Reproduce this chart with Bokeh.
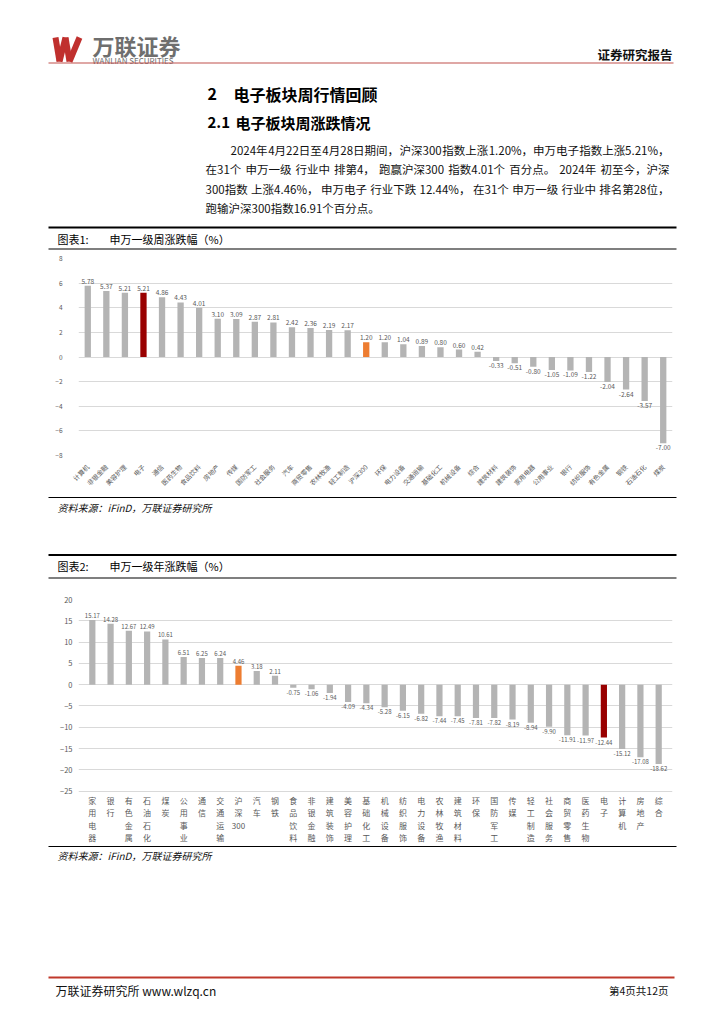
import math
from bokeh.plotting import figure
from bokeh.models import Range1d, FactorRange, FixedTicker, ColumnDataSource
from bokeh.layouts import column
from bokeh.core.properties import value
from bokeh.embed import file_html
from bokeh.resources import INLINE

FONT = "Noto Sans CJK SC"

# ---------------- data ----------------
week_categories = ["计算机", "非银金融", "美容护理", "电子", "通信", "医药生物", "食品饮料", "房地产",
                   "传媒", "国防军工", "社会服务", "汽车", "商贸零售", "农林牧渔", "轻工制造", "沪深300",
                   "环保", "电力设备", "交通运输", "基础化工", "机械设备", "综合", "建筑材料", "建筑装饰",
                   "家用电器", "公用事业", "银行", "纺织服饰", "有色金属", "钢铁", "石油石化", "煤炭"]
week_values = [5.78, 5.37, 5.21, 5.21, 4.86, 4.43, 4.01, 3.10,
               3.09, 2.87, 2.81, 2.42, 2.36, 2.19, 2.17, 1.20,
               1.20, 1.04, 0.89, 0.80, 0.60, 0.42, -0.33, -0.51,
               -0.80, -1.05, -1.09, -1.22, -2.04, -2.64, -3.57, -7.00]

year_categories = ["家用电器", "银行", "有色金属", "石油石化", "煤炭", "公用事业", "通信", "交通运输",
                   "沪深300", "汽车", "钢铁", "食品饮料", "非银金融", "建筑装饰", "美容护理", "基础化工",
                   "机械设备", "纺织服饰", "电力设备", "农林牧渔", "建筑材料", "环保", "国防军工", "传媒",
                   "轻工制造", "社会服务", "商贸零售", "医药生物", "电子", "计算机", "房地产", "综合"]
year_values = [15.17, 14.28, 12.67, 12.49, 10.61, 6.51, 6.25, 6.24,
               4.46, 3.18, 2.11, -0.75, -1.06, -1.94, -4.09, -4.34,
               -5.28, -6.15, -6.82, -7.44, -7.45, -7.81, -7.82, -8.19,
               -8.94, -9.90, -11.91, -11.97, -12.44, -15.12, -17.08, -18.62]

week_ticks = [-8, -6, -4, -2, 0, 2, 4, 6, 8]
year_ticks = [-25, -20, -15, -10, -5, 0, 5, 10, 15, 20]

highlight = "电子"
benchmark = "沪深300"

paragraph = [
    ["2024年", "4月22日至", "4月28日期间，", "沪深300", "指数上涨", "1.20%，", "申万电子", "指数上涨", "5.21%，"],
    ["在31个", "申万一级", "行业中", "排第4，", "跑赢沪深300", "指数4.01个", "百分点。", "2024年", "初至今，沪深"],
    ["300指数", "上涨4.46%，", "申万电子", "行业下跌", "12.44%，", "在31个", "申万一级", "行业中", "排名第28位，"],
    ["跑输沪深300指数16.91个百分点。"],
]

W = 724
BL, BR = 78, 52          # common left / right borders of every figure
GRAY_BAR = "#b4b4b4"
RED_BAR = "#990000"
ORANGE_BAR = "#ed7d31"
LABEL = "#595959"


def deco(top, bottom):
    p = figure(width=W, height=bottom - top, x_range=Range1d(BL, W - BR), y_range=Range1d(bottom, top),
               x_axis_type=None, y_axis_type=None, toolbar_location=None, output_backend="svg",
               min_border_left=BL, min_border_right=BR, min_border_top=0, min_border_bottom=0,
               outline_line_color=None)
    p.grid.visible = False
    return p


def txt(p, x, y, s, size, style="normal", color="#000000", align="left"):
    p.text(x=[x], y=[y], text=[s], text_font=value(FONT), text_font_size=value(f"{size}px"),
           text_font_style=style, text_color=color, text_align=align, text_baseline="middle",
           level="overlay")


def hline(p, y, x0, x1, color="#000000", width=1.0):
    p.segment(x0=[x0], y0=[y], x1=[x1], y1=[y], line_color=color, line_width=width, level="overlay")


def est_width(s, size):
    w = 0.0
    for ch in s:
        if ord(ch) > 0x2e80:
            w += 1.0
        elif ch == ".":
            w += 0.27
        elif ch == "%":
            w += 0.86
        else:
            w += 0.56
    return w * size


def justify(p, y, chunks, x0, x1, size):
    if len(chunks) == 1:
        txt(p, x0, y, chunks[0], size, "normal", "#111111")
        return
    widths = [est_width(c, size) for c in chunks]
    gap = (x1 - x0 - sum(widths)) / (len(chunks) - 1)
    x = x0
    for i, (c, w) in enumerate(zip(chunks, widths)):
        if i == len(chunks) - 1:
            txt(p, x1, y, c, size, "normal", "#111111", "right")
        else:
            txt(p, x, y, c, size, "normal", "#111111")
        x += w + gap


def base_chart(cats, vals, ticks, y_start, top, bottom, bt, bb, tick_size, val_size, standoff_y, padding):
    p = figure(width=W, height=bottom - top,
               x_range=FactorRange(factors=cats, range_padding=padding),
               y_range=Range1d(y_start, ticks[-1]), toolbar_location=None, output_backend="svg",
               outline_line_color=None, min_border_left=BL, min_border_right=BR,
               min_border_top=bt, min_border_bottom=bb)
    colors = [RED_BAR if c == highlight else ORANGE_BAR if c == benchmark else GRAY_BAR for c in cats]
    src = ColumnDataSource(dict(cat=cats, val=vals, color=colors))
    p.vbar(x="cat", top="val", bottom=0, width=0.34, fill_color="color", line_color=None, source=src)

    pos = [(c, v) for c, v in zip(cats, vals) if v >= 0]
    neg = [(c, v) for c, v in zip(cats, vals) if v < 0]
    for group, base, off in ((pos, "bottom", -2), (neg, "top", 2)):
        s = ColumnDataSource(dict(cat=[g[0] for g in group], val=[g[1] for g in group],
                                  lab=[f"{g[1]:.2f}" for g in group]))
        p.text(x="cat", y="val", text="lab", source=s, text_font=value(FONT),
               text_font_size=value(f"{val_size}px"), text_color=LABEL, text_align="center",
               text_baseline=base, y_offset=off)

    p.xgrid.visible = False
    p.ygrid.grid_line_color = "#d9d9d9"
    p.ygrid.grid_line_width = 1
    p.yaxis.ticker = FixedTicker(ticks=ticks)
    for ax in (p.xaxis, p.yaxis):
        ax.axis_line_color = None
        ax.major_tick_line_color = None
        ax.minor_tick_line_color = None
        ax.major_label_text_font = FONT
        ax.major_label_text_color = LABEL
    p.yaxis.major_label_text_font_size = f"{tick_size}px"
    p.yaxis.major_label_standoff = standoff_y
    p.background_fill_color = "white"
    return p


# ---------------- top block ----------------
top = deco(0, 250)
# logo "W"
top.segment(x0=[55, 59, 65, 69], y0=[37, 61, 37, 61], x1=[59, 65, 69, 79], y1=[61, 37, 61, 37],
            line_color="#c0302e", line_width=6, line_cap="butt", level="overlay")
txt(top, 92, 44.5, "万联证券", 22, "bold", "#6e6e6e")
txt(top, 92, 59.8, "WANLIAN SECURITIES", 8, "normal", "#6e6e6e")
hline(top, 62.5, 48, 673, "#c0504d", 1.2)
txt(top, 672, 54, "证券研究报告", 12.5, "bold", "#111111", "right")
txt(top, 207, 93, "2", 16, "bold")
txt(top, 233, 93, "电子板块周行情回顾", 16, "bold")
txt(top, 207, 122, "2.1", 15, "bold")
txt(top, 235, 122, "电子板块周涨跌情况", 15, "bold")
para_x = [230, 205, 205, 205]
para_y = [149, 168.5, 188, 207.5]
for x, y, chunks in zip(para_x, para_y, paragraph):
    justify(top, y, chunks, x, 669, 11.5)
hline(top, 227, 48, 676, "#000000", 2)
txt(top, 57, 238, "图表1:", 11)
txt(top, 109, 238, "申万一级周涨跌幅（%）", 11)
hline(top, 248.5, 48, 676, "#000000", 1.2)

# ---------------- chart 1 ----------------
c1 = base_chart(week_categories, week_values, week_ticks, week_ticks[0], 250, 495, 8, 40,
                6.5, 6.5, 10, 0)
c1.xaxis.major_label_text_font_size = "6.5px"
c1.xaxis.major_label_standoff = 4
c1.xaxis.major_label_orientation = math.pi / 4

# ---------------- middle block ----------------
mid = deco(495, 582)
hline(mid, 497, 48, 676, "#000000", 1)
txt(mid, 57, 507, "资料来源：iFinD，万联证券研究所", 10, "italic", "#111111")
hline(mid, 554.5, 48, 676, "#000000", 2)
txt(mid, 57, 565.5, "图表2:", 11)
txt(mid, 109, 565.5, "申万一级年涨跌幅（%）", 11)
hline(mid, 577.5, 48, 676, "#000000", 1.2)

# ---------------- chart 2 ----------------
# frame runs to the bottom of the figure; the range below -25 holds the vertical category labels
c2 = base_chart(year_categories, year_values, year_ticks, -37.78, 582, 845, 17, 0,
                7.5, 6, 0, 0.016)
c2.xaxis.visible = False
vertical = [("沪\n深\n300" if c == benchmark else "\n".join(c)) for c in year_categories]
lab_src = ColumnDataSource(dict(cat=year_categories, y=[year_ticks[0]] * len(year_categories), lab=vertical))
c2.text(x="cat", y="y", text="lab", source=lab_src, text_font=value(FONT),
        text_font_size=value("8px"), text_color=LABEL, text_align="center", text_baseline="top",
        text_line_height=1.12, y_offset=4, level="overlay")

# ---------------- bottom block ----------------
bot = deco(845, 1024)
hline(bot, 846, 48, 676, "#000000", 1)
txt(bot, 57, 855, "资料来源：iFinD，万联证券研究所", 10, "italic", "#111111")
hline(bot, 977, 48, 674, "#c0392b", 2)
txt(bot, 55, 990, "万联证券研究所 www.wlzq.cn", 12, "normal", "#111111")
txt(bot, 668, 990, "第4页共12页", 10.5, "normal", "#111111", "right")

page = column(top, c1, mid, c2, bot, spacing=0)
open("out.html", "w").write(file_html(page, INLINE))
